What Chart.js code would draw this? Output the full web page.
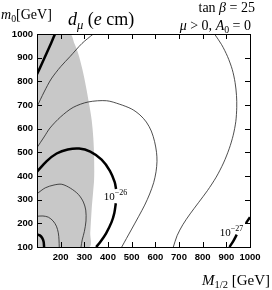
<!DOCTYPE html>
<html>
<head>
<meta charset="utf-8">
<script src="https://cdn.jsdelivr.net/npm/chart.js@4/dist/chart.umd.min.js"></script>
<style>
body { margin: 0; background: #fff; }
#wrap { position: relative; width: 272px; height: 290px; }
#grafica { position: absolute; left: 0; top: 0; }
.txt { position: absolute; font-family: "Liberation Serif", "DejaVu Serif", serif; color: #000; white-space: nowrap; line-height: 1; }
.sub { font-size: 70%; position: relative; top: 0.3em; }
</style>
</head>
<body>
<div id="wrap">
  <canvas id="grafica" width="272" height="290"></canvas>
  <div class="txt" style="left:1px; top:8px; font-size:14px;"><i>m</i><span class="sub">0</span>[GeV]</div>
  <div class="txt" style="left:68px; top:10px; font-size:18px;"><i>d</i><span class="sub"><i>μ</i></span> (<i>e</i> cm)</div>
  <div class="txt" style="right:17px; top:1px; font-size:14px;">tan <i>β</i> = 25</div>
  <div class="txt" style="right:21px; top:19px; font-size:14px;"><i>μ</i> &gt; 0, <i>A</i><span class="sub">0</span> = 0</div>
  <div class="txt" style="right:2px; top:273px; font-size:15px;"><i>M</i><span class="sub">1/2</span> [GeV]</div>
</div>
<script>
// region sombreada (borde superior e inferior, x creciente)
const grisArriba = [[100,1000],[239,1000],[258,960],[274,918],[292,850],[307,777],[320,705],[331,637],[338,560],[342,470],[343,420]];
const grisAbajo = [[100,100],[321,100],[325,160],[331,260],[337,330],[342,390],[343,420]];

// contornos gruesos
const grueso1 = [[100,830],[120,873],[141,920],[160,962],[176,1000]];
const grueso26a = [[100,418],[140,462],[183,495],[230,512],[278,516],[325,503],[373,469],[408,422],[428,375],[434,345]];
const grueso26b = [[433,285],[427,245],[415,205],[392,158],[368,122],[350,100]];
const gruesoChico = [[100,153],[112,149],[122,138],[128,122],[130,100]];
const grueso27a = [[913,100],[930,126],[944,152]];
const grueso27b = [[983,201],[1000,226]];

// contornos delgados
const delgado1 = [[100,693],[130,755],[160,810],[200,862],[240,905],[290,960],[338,1000]];
const delgado2 = [[100,520],[130,565],[155,603],[200,650],[253,690],[317,713],[394,718],[450,703],[500,683],[535,658],[562,628],[583,590],[597,545],[605,500],[607,462],[603,418],[593,372],[576,324],[555,277],[530,230],[498,172],[458,100]];
const delgado3 = [[850,1000],[880,955],[905,905],[925,850],[937,795],[943,740],[944,690],[940,630],[929,572],[912,515],[888,455],[857,395],[820,338],[782,287],[747,240],[716,194],[692,148],[676,100]];
const delgado4 = [[100,325],[135,350],[172,362],[205,365],[242,348],[275,322],[296,290],[306,256],[307,210],[300,165],[291,130],[286,100]];
const delgado5 = [[100,230],[125,231],[148,226],[168,210],[182,188],[190,160],[193,130],[194,100]];

// etiquetas de contorno
const etiquetasExp = ['\u221226', '\u221227'];
const etiquetasX = [432, 922];
const etiquetasY = [315, 165];

const marcas = [100, 200, 300, 400, 500, 600, 700, 800, 900, 1000];

const pts = arr => arr.map(p => ({ x: p[0], y: p[1] }));

const linea = (arr, ancho, color) => ({
    data: pts(arr),
    showLine: true,
    borderColor: color,
    borderWidth: ancho,
    pointRadius: 0,
    tension: 0.3,
    fill: false
});

// marcas hacia adentro en los cuatro lados
const marcasPlugin = {
    id: 'marcasAdentro',
    afterDatasetsDraw(chart) {
        const ctx = chart.ctx;
        const a = chart.chartArea;
        const sx = chart.scales.x, sy = chart.scales.y;
        const L = 5;
        ctx.save();
        ctx.strokeStyle = '#000';
        ctx.lineWidth = 1;
        ctx.beginPath();
        marcas.forEach(v => {
            const px = Math.round(sx.getPixelForValue(v)) + 0.5;
            ctx.moveTo(px, a.bottom); ctx.lineTo(px, a.bottom - L);
            ctx.moveTo(px, a.top); ctx.lineTo(px, a.top + L);
            const py = Math.round(sy.getPixelForValue(v)) + 0.5;
            ctx.moveTo(a.left, py); ctx.lineTo(a.left + L, py);
            ctx.moveTo(a.right, py); ctx.lineTo(a.right - L, py);
        });
        ctx.stroke();
        ctx.strokeRect(Math.round(a.left) + 0.5, Math.round(a.top) + 0.5, Math.round(a.right - a.left), Math.round(a.bottom - a.top));
        ctx.restore();
    }
};

const etiquetasPlugin = {
    id: 'etiquetas',
    afterDatasetsDraw(chart) {
        const ctx = chart.ctx;
        const sx = chart.scales.x, sy = chart.scales.y;
        ctx.save();
        ctx.fillStyle = '#000';
        ctx.textBaseline = 'alphabetic';
        etiquetasExp.forEach((e, i) => {
            ctx.font = '11px "Liberation Serif", serif';
            const w1 = ctx.measureText('10').width;
            ctx.font = '8px "Liberation Serif", serif';
            const w2 = ctx.measureText(e).width;
            const px = sx.getPixelForValue(etiquetasX[i]) - (w1 + w2) / 2;
            const py = sy.getPixelForValue(etiquetasY[i]) + 4;
            ctx.font = '11px "Liberation Serif", serif';
            ctx.fillText('10', px, py);
            ctx.font = '8px "Liberation Serif", serif';
            ctx.fillText(e, px + w1, py - 5);
        });
        ctx.restore();
    }
};

const ejeComun = {
    type: 'linear',
    min: 100,
    max: 1000,
    grid: { drawOnChartArea: false, drawTicks: false },
    border: { display: false }
};

const fuenteTicks = { family: '"Liberation Sans", Arial, sans-serif', size: 9.5, weight: 'bold' };

const chart = new Chart(document.getElementById('grafica').getContext('2d'), {
    type: 'scatter',
    data: {
        datasets: [
            { data: pts(grisArriba), showLine: true, borderWidth: 0, borderColor: 'rgba(0,0,0,0)', pointRadius: 0, tension: 0.3, fill: '+1', backgroundColor: '#c8c8c8' },
            { data: pts(grisAbajo), showLine: true, borderWidth: 0, borderColor: 'rgba(0,0,0,0)', pointRadius: 0, tension: 0.3, fill: false },
            linea(grueso1, 2.5, '#000'),
            linea(grueso26a, 2.5, '#000'),
            linea(grueso26b, 2.5, '#000'),
            linea(gruesoChico, 2.5, '#000'),
            linea(grueso27a, 2.5, '#000'),
            linea(grueso27b, 2.5, '#000'),
            linea(delgado1, 0.8, '#222'),
            linea(delgado2, 0.8, '#222'),
            linea(delgado3, 0.8, '#222'),
            linea(delgado4, 0.8, '#222'),
            linea(delgado5, 0.8, '#222')
        ]
    },
    options: {
        responsive: false,
        animation: false,
        layout: { padding: { top: 34, right: 22, left: 0, bottom: 0 } },
        plugins: {
            legend: { display: false },
            tooltip: { enabled: false },
            filler: { drawTime: 'beforeDatasetsDraw' }
        },
        scales: {
            x: {
                ...ejeComun,
                position: 'bottom',
                afterBuildTicks: s => { s.ticks = marcas.map(v => ({ value: v })); },
                ticks: { color: '#000', font: fuenteTicks, padding: 5, maxRotation: 0, autoSkip: false,
                         callback: v => v === 100 ? '' : String(v) },
                afterFit: s => { s.height = 43; }
            },
            y: {
                ...ejeComun,
                position: 'left',
                afterBuildTicks: s => { s.ticks = marcas.map(v => ({ value: v })); },
                ticks: { color: '#000', font: fuenteTicks, padding: 4, autoSkip: false,
                         callback: v => String(v) },
                afterFit: s => { s.width = 37; }
            }
        }
    },
    plugins: [etiquetasPlugin, marcasPlugin]
});
</script>
</body>
</html>
